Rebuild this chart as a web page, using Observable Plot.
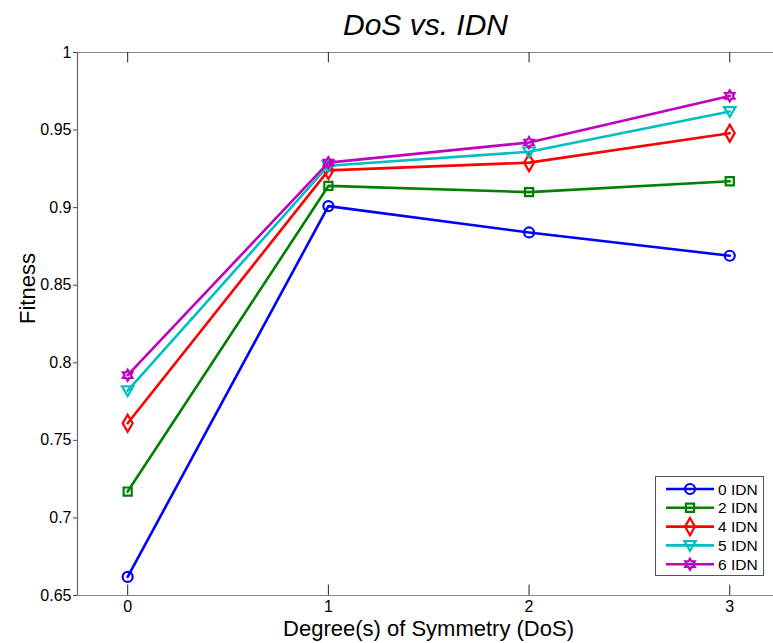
<!DOCTYPE html>
<html>
<head>
<meta charset="utf-8">
<script src="https://cdn.jsdelivr.net/npm/d3@7"></script>
<script src="https://cdn.jsdelivr.net/npm/@observablehq/plot@0.6"></script>
<style>
  body { margin: 0; background: #fff; font-family: "Liberation Sans", Arial, sans-serif; }
  #wrap { position: relative; width: 773px; height: 643px; overflow: hidden; }
  #legend { position: absolute; left: 655px; top: 476px; width: 109px; height: 100px;
            border: 1px solid #555; background: #fff; box-sizing: border-box; }
</style>
</head>
<body>
<div id="wrap"><div id="legend"></div></div>
<script>
const dos = [0, 1, 2, 3];
const seriesNames = ["0 IDN", "2 IDN", "4 IDN", "5 IDN", "6 IDN"];
const idn0 = [0.662, 0.901, 0.884, 0.869];
const idn2 = [0.717, 0.914, 0.910, 0.917];
const idn4 = [0.761, 0.924, 0.929, 0.948];
const idn5 = [0.782, 0.927, 0.936, 0.962];
const idn6 = [0.792, 0.929, 0.942, 0.972];
const colors = ["#0000ff", "#008000", "#ff0000", "#00bfbf", "#bf00bf"];
const xTicks = [0, 1, 2, 3];
const yTicks = [0.65, 0.7, 0.75, 0.8, 0.85, 0.9, 0.95, 1];
const yTickLabels = ["0.65", "0.7", "0.75", "0.8", "0.85", "0.9", "0.95", "1"];

const allValues = [idn0, idn2, idn4, idn5, idn6];

// custom symbols
const triangleDown = {
  draw(ctx, size) {
    const r = Math.sqrt(size / Math.PI) * 1.15;
    ctx.moveTo(-r, -r * 0.75);
    ctx.lineTo(r, -r * 0.75);
    ctx.lineTo(0, r * 0.95);
    ctx.closePath();
  }
};
const hexagram = {
  draw(ctx, size) {
    const r = Math.sqrt(size / Math.PI) * 1.1;
    const ri = r * 0.58;
    for (let i = 0; i < 12; i++) {
      const a = (i * Math.PI) / 6 - Math.PI / 2;
      const rr = i % 2 === 0 ? r : ri;
      const px = rr * Math.cos(a), py = rr * Math.sin(a);
      if (i === 0) ctx.moveTo(px, py); else ctx.lineTo(px, py);
    }
    ctx.closePath();
  }
};
const symbols = ["circle", "square", "diamond", triangleDown, hexagram];
const radii = [5, 4.6, 5.2, 5, 5];

const rows = [];
seriesNames.forEach((s, i) => dos.forEach((d, j) => rows.push({series: s, dos: d, fitness: allValues[i][j], idx: i})));

const marks = [
  Plot.ruleY([1], {stroke: "#888", strokeWidth: 1.2}),
  Plot.ruleY([0.65], {stroke: "#888", strokeWidth: 1.2}),
  Plot.ruleX([-0.25], {stroke: "#666", strokeWidth: 1.2}),
  Plot.axisX({ticks: xTicks, tickSize: 0, tickPadding: 5, fontSize: 16, label: null, tickFormat: d => String(d)}),
  Plot.ruleX(xTicks, {y1: 0.65, y2: 0.6567, stroke: "#222", strokeWidth: 1}),
  Plot.ruleX(xTicks, {y1: 0.9933, y2: 1, stroke: "#222", strokeWidth: 1}),
  Plot.axisY({ticks: yTicks, tickSize: 4, tickPadding: 2, fontSize: 16, label: null,
              tickFormat: d => yTickLabels[yTicks.indexOf(d)], stroke: "#444"}),
  Plot.text(["DoS vs. IDN"], {frameAnchor: "top", lineAnchor: "middle", dy: -27, fontSize: 30, fontStyle: "italic", fill: "#000"}),
  Plot.text(["Degree(s) of Symmetry (DoS)"], {frameAnchor: "bottom", lineAnchor: "middle", dy: 33, dx: 3, fontSize: 22, fill: "#000"}),
  Plot.text(["Fitness"], {frameAnchor: "left", lineAnchor: "middle", dx: -50, rotate: -90, fontSize: 22, fill: "#000"})
];
seriesNames.forEach((s, i) => {
  const data = rows.filter(r => r.series === s);
  marks.push(Plot.line(data, {x: "dos", y: "fitness", stroke: colors[i], strokeWidth: 2.6}));
  marks.push(Plot.dot(data, {x: "dos", y: "fitness", stroke: colors[i], strokeWidth: 2.2, fill: "none",
                             symbol: symbols[i], r: radii[i]}));
});

const chart = Plot.plot({
  width: 773,
  height: 643,
  marginLeft: 77,
  marginRight: 0,
  marginTop: 52,
  marginBottom: 48,
  style: {fontFamily: "'Liberation Sans', Arial, sans-serif", color: "#000", background: "#fff"},
  x: {domain: [-0.25, 3.218], axis: null},
  y: {domain: [0.65, 1], axis: null},
  marks
});
const wrap = document.getElementById("wrap");
wrap.insertBefore(chart, wrap.firstChild);

// legend
const leg = d3.select("#legend");
const lsvg = leg.append("svg").attr("width", 107).attr("height", 98).style("display", "block");
seriesNames.forEach((s, i) => {
  const y = 12 + i * 18.8;
  const g = lsvg.append("g").attr("transform", `translate(0,${y})`);
  g.append("line").attr("x1", 10).attr("x2", 58).attr("y1", 0).attr("y2", 0)
    .attr("stroke", colors[i]).attr("stroke-width", 2.6);
  const sym = typeof symbols[i] === "string"
    ? {circle: d3.symbolCircle, square: d3.symbolSquare, diamond: d3.symbolDiamond}[symbols[i]]
    : symbols[i];
  g.append("path").attr("transform", "translate(34,0)")
    .attr("d", d3.symbol(sym, radii[i] * radii[i] * Math.PI)())
    .attr("fill", "none").attr("stroke", colors[i]).attr("stroke-width", 2.2);
  g.append("text").attr("x", 62).attr("y", 5.5).attr("font-size", 15.5)
    .attr("font-family", "'Liberation Sans', Arial, sans-serif").text(s);
});
</script>
</body>
</html>
